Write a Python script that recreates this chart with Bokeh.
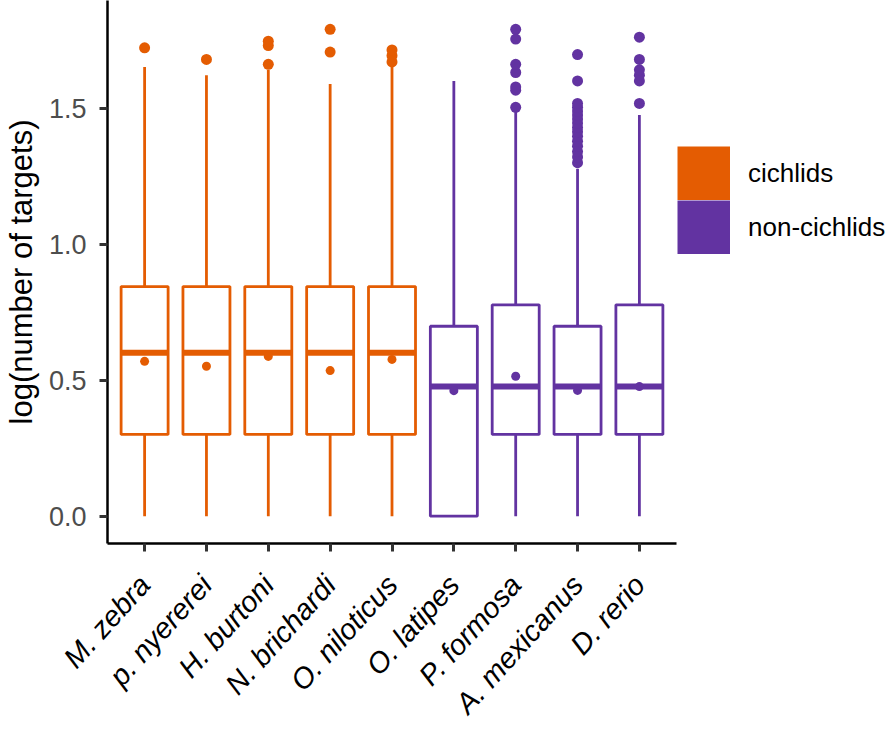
import math
from bokeh.plotting import figure
from bokeh.models import (FactorRange, Range1d, FixedTicker, NumeralTickFormatter,
                          ColumnDataSource, Legend, LegendItem)
from bokeh.transform import dodge
from bokeh.embed import file_html
from bokeh.resources import INLINE

# ---------------- data ----------------
species = ["M. zebra", "p. nyererei", "H. burtoni", "N. brichardi", "O. niloticus",
           "O. latipes", "P. formosa", "A. mexicanus", "D. rerio"]
group = ["cichlids"] * 5 + ["non-cichlids"] * 4
q1 = [0.301, 0.301, 0.301, 0.301, 0.301, 0.0, 0.301, 0.301, 0.301]
median = [0.602, 0.602, 0.602, 0.602, 0.602, 0.477, 0.477, 0.477, 0.477]
q3 = [0.845, 0.845, 0.845, 0.845, 0.845, 0.699, 0.778, 0.699, 0.778]
lower = [0.0] * 9
upper = [1.653, 1.623, 1.643, 1.591, 1.653, 1.602, 1.491, 1.279, 1.477]
mean = [0.570, 0.552, 0.588, 0.536, 0.577, 0.462, 0.515, 0.463, 0.477]

outliers = {
    "M. zebra": [1.724],
    "p. nyererei": [1.681],
    "H. burtoni": [1.663, 1.732, 1.748],
    "N. brichardi": [1.708, 1.792],
    "O. niloticus": [1.672, 1.695, 1.716],
    "O. latipes": [],
    "P. formosa": [1.505, 1.568, 1.580, 1.633, 1.663, 1.756, 1.792],
    "A. mexicanus": [1.301, 1.322, 1.342, 1.362, 1.380, 1.398, 1.415, 1.431,
                     1.447, 1.462, 1.477, 1.491, 1.505, 1.519, 1.602, 1.699],
    "D. rerio": [1.519, 1.602, 1.623, 1.643, 1.681, 1.763],
}

groups = ["cichlids", "non-cichlids"]
group_colors = {"cichlids": "#E45C02", "non-cichlids": "#6233A1"}
y_ticks = [0.0, 0.5, 1.0, 1.5]
y_title = "log(number of targets)"

# ---------------- figure ----------------
FONT = "Liberation Sans"
colors = [group_colors[g] for g in group]

p = figure(frame_width=569, frame_height=543, output_backend="svg",
           toolbar_location=None,
           x_range=FactorRange(factors=species, range_padding=0.1,
                               range_padding_units="absolute"),
           y_range=Range1d(-0.1005, 1.898),
           min_border_left=107, min_border_right=0, min_border_top=0,
           min_border_bottom=180, title=None)
p.background_fill_color = "white"
p.border_fill_color = "white"
p.outline_line_color = None
p.xgrid.visible = False
p.ygrid.visible = False

src = ColumnDataSource(dict(species=species, group=group, q1=q1, median=median,
                            q3=q3, lower=lower, upper=upper, mean=mean, color=colors))

BW = 0.76
LW = 2.8
# whiskers
p.segment(x0="species", y0="q3", x1="species", y1="upper", source=src,
          line_color="color", line_width=LW)
p.segment(x0="species", y0="lower", x1="species", y1="q1", source=src,
          line_color="color", line_width=LW)
# boxes
p.vbar(x="species", top="q3", bottom="q1", width=BW, source=src,
       fill_color="white", line_color="color", line_width=LW)
# medians
p.segment(x0=dodge("species", -BW / 2, range=p.x_range), y0="median",
          x1=dodge("species", BW / 2, range=p.x_range), y1="median",
          source=src, line_color="color", line_width=6)
# means
p.scatter(x="species", y="mean", source=src, size=9, fill_color="color",
          line_color=None)

# outliers
ox, oy, oc = [], [], []
for s, g in zip(species, group):
    for v in outliers[s]:
        ox.append(s)
        oy.append(v)
        oc.append(group_colors[g])
p.scatter(x=ox, y=oy, size=11, fill_color=oc, line_color=None)

# ---------------- axes ----------------
for ax in (p.xaxis[0], p.yaxis[0]):
    ax.axis_line_color = "black"
    ax.axis_line_width = 2.5
    ax.major_tick_line_color = "#333333"
    ax.major_tick_line_width = 3
    ax.major_tick_out = 8
    ax.major_tick_in = 0
    ax.minor_tick_line_color = None
    ax.major_label_text_font = FONT

p.yaxis.ticker = FixedTicker(ticks=y_ticks)
p.yaxis.formatter = NumeralTickFormatter(format="0.0")
p.yaxis.major_label_text_font_size = "27px"
p.yaxis.major_label_text_color = "#4D4D4D"
p.yaxis.major_label_standoff = 13
p.yaxis.axis_label = y_title
p.yaxis.axis_label_text_font = FONT
p.yaxis.axis_label_text_font_size = "31px"
p.yaxis.axis_label_text_font_style = "normal"
p.yaxis.axis_label_text_color = "black"
p.yaxis.axis_label_standoff = 7

p.xaxis.major_label_orientation = math.radians(48)
p.xaxis.major_label_text_font_size = "29px"
p.xaxis.major_label_text_font_style = "italic"
p.xaxis.major_label_text_color = "black"
p.xaxis.major_label_standoff = 28

# ---------------- legend ----------------
# legend-only renderers (a single NaN point, so nothing is drawn in the plot)
items = []
for g in groups:
    r = p.line(x=[species[0]], y=[float("nan")], line_color=group_colors[g],
               line_width=54, line_cap="butt")
    items.append(LegendItem(label=g, renderers=[r]))
lg = Legend(items=items, location=(1, 289),
            glyph_width=53, glyph_height=54, label_standoff=18,
            label_text_font=FONT, label_text_font_size="26px",
            label_text_color="black", padding=0, margin=0, spacing=0,
            border_line_color=None, background_fill_alpha=0)
p.add_layout(lg, "right")

open("out.html", "w").write(file_html(p, INLINE))
